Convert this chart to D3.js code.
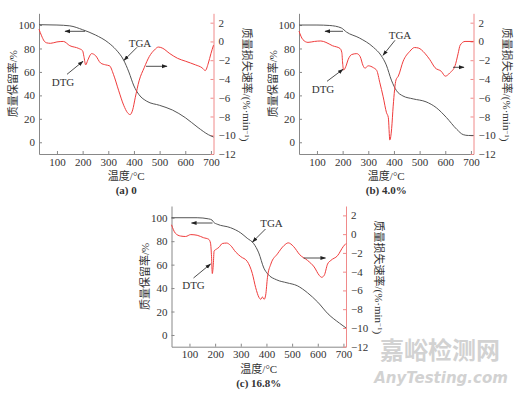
<!DOCTYPE html>
<html lang="zh">
<head>
<meta charset="utf-8">
<title>TGA / DTG</title>
<script src="https://cdn.jsdelivr.net/npm/d3@7"></script>
<style>
  body { margin: 0; background: #fff; }
  svg { display: block; }
  text { font-family: "Liberation Serif", "DejaVu Serif", "Noto Sans CJK SC", serif; fill: #333; }
</style>
</head>
<body>
<script>
// ---- data (temperature °C, value) ----
var tgaA = [[30,100.3],[100,100],[150,99.3],[200,96],[250,91.5],[300,85],[330,79],[360,70],[380,60],[400,48],
  [420,40.5],[450,35],[500,31.5],[550,27.5],[600,21],[650,12.5],[690,6.5],[710,4.5]];
var dtgA = [[30,1.3],[40,0.6],[50,0.05],[60,-0.15],[75,-0.2],[100,-0.05],[125,0],[150,-0.45],[185,-0.75],[200,-1.0],
  [205,-1.6],[212,-2.5],[220,-2.0],[235,-1.3],[250,-1.5],[270,-2.3],[290,-2.5],[305,-2.6],[320,-3.5],[340,-5.2],
  [360,-6.8],[375,-7.6],[385,-7.8],[395,-7.3],[405,-6.0],[420,-4.2],[440,-2.8],[460,-1.6],[480,-0.9],[495,-0.6],
  [510,-0.7],[540,-1.3],[570,-1.8],[600,-2.1],[640,-2.5],[665,-2.8],[678,-3.1],[690,-2.3],[700,-1.3],[710,-0.4]];

var tgaB = [[30,100],[100,100],[150,99.6],[195,97.5],[215,94],[265,89],[320,81],[350,74],[370,66],[390,53],
  [410,44],[435,39.5],[475,37],[525,34.5],[565,29.5],[605,21],[645,11],[670,6.5],[690,5.8],[710,5.8]];
var dtgB = [[30,1.1],[45,0.2],[65,-0.1],[90,0],[115,0.05],[135,-0.1],[160,-0.45],[190,-0.75],[197,-1.2],[200,-2.3],
  [204,-3.05],[212,-2.7],[222,-1.9],[235,-1.4],[255,-1.3],[268,-1.6],[280,-2.6],[287,-2.85],[300,-2.6],[320,-2.8],
  [333,-3.1],[345,-4.4],[358,-5.9],[371,-7.6],[378,-8.1],[384,-10.5],[391,-9.3],[397,-6.9],[408,-4.1],[417,-3.7],
  [436,-2.1],[462,-1.05],[480,-0.65],[495,-0.7],[520,-1.25],[540,-1.95],[560,-2.8],[585,-3.2],[600,-3.7],
  [618,-3.35],[638,-2.6],[650,-1.3],[658,-0.4],[677,0],[710,0]];

var tgaC = [[30,100],[130,100],[175,99],[188,98],[195,96],[208,94.5],[260,91.5],[300,87],[325,82.5],[350,78],
  [370,70],[390,57],[405,52],[440,47],[480,44.5],[520,42],[560,36],[600,28],[640,18],[685,10],[710,6]];
var dtgC = [[30,1.0],[45,0.1],[65,-0.2],[85,-0.25],[105,-0.05],[130,-0.12],[155,-0.38],[175,-0.55],[182,-0.95],
  [186,-2.4],[189,-4.2],[193,-3.2],[196,-1.8],[205,-1.6],[215,-1.4],[228,-1.0],[245,-0.95],[260,-1.2],[280,-1.9],
  [300,-2.4],[325,-2.9],[345,-4.2],[358,-5.7],[371,-6.75],[378,-6.95],[384,-6.7],[391,-6.95],[397,-6.5],[404,-4.6],
  [417,-3.2],[443,-2.1],[469,-1.2],[485,-0.93],[505,-1.3],[530,-2.2],[560,-2.8],[586,-3.5],[606,-4.4],[615,-4.6],
  [625,-4.4],[638,-3.2],[651,-2.8],[677,-2.3],[700,-1.3],[710,-1.0]];

var xTicks = [100,200,300,400,500,600,700];
var leftTicks = [0,20,40,60,80,100];
var rightTicks = [-12,-10,-8,-6,-4,-2,0,2];
var captions = ["(a) 0", "(b) 4.0%", "(c) 16.8%"];

// ---- layout ----
var w = 522, h = 396;
var pw = 174.5, ph = 140.7;

var svg = d3.select("body").append("svg").attr("width", w).attr("height", h);

var defs = svg.append("defs");
defs.append("marker").attr("id", "ah")
  .attr("viewBox", "0 0 10 10").attr("refX", 9).attr("refY", 5)
  .attr("markerWidth", 7).attr("markerHeight", 7).attr("orient", "auto")
  .append("path").attr("d", "M0,1.5 L10,5 L0,8.5 Z").attr("fill", "#222");

var xScale = d3.scaleLinear().domain([30, 710]).range([0, pw]);
var yLeft = d3.scaleLinear().domain([-10, 110]).range([ph, 0]);
var yRight = d3.scaleLinear().domain([-12, 3]).range([ph, 0]);

var tgaLine = d3.line().x(function(d){ return xScale(d[0]); }).y(function(d){ return yLeft(d[1]); })
  .curve(d3.curveMonotoneX);
var dtgLine = d3.line().x(function(d){ return xScale(d[0]); }).y(function(d){ return yRight(d[1]); })
  .curve(d3.curveMonotoneX);

// annotation spots are local pixel offsets inside each panel
var panels = [
  { x: 39, y: 13.3, tga: tgaA, dtg: dtgA, cap: captions[0],
    tgaText: [101, 30], tgaArrow: [[98,34],[85,47]],
    leftArrow: [[46,18],[26,18]], rightArrow: [[107,53],[128,53]],
    dtgText: [24, 69], dtgArrow: [[28,61],[44,48]] },
  { x: 299, y: 13.3, tga: tgaB, dtg: dtgB, cap: captions[1],
    tgaText: [101, 22], tgaArrow: [[96,27],[84,42]],
    leftArrow: [[44,18],[26,18]], rightArrow: [[154,54],[165,54]],
    dtgText: [24, 76], dtgArrow: [[28,68],[44,56]] },
  { x: 171.5, y: 206, tga: tgaC, dtg: dtgC, cap: captions[2],
    tgaText: [100, 17], tgaArrow: [[94,23],[81,36]],
    leftArrow: [[41,17],[20,17]], rightArrow: [[132,52],[154,52]],
    dtgText: [22, 79], dtgArrow: [[22,72],[39,58]] }
];

panels.forEach(function(p) {
  var g = svg.append("g").attr("transform", "translate(" + p.x + "," + p.y + ")");

  // bottom axis
  var xa = g.append("g").attr("transform", "translate(0," + ph + ")")
    .call(d3.axisBottom(xScale).tickValues(xTicks).tickSizeInner(-3).tickSizeOuter(0).tickPadding(4));
  // left axis
  var la = g.append("g")
    .call(d3.axisLeft(yLeft).tickValues(leftTicks).tickSizeInner(-3).tickSizeOuter(0).tickPadding(4));
  // right axis (red)
  var ra = g.append("g").attr("transform", "translate(" + pw + ",0)")
    .call(d3.axisRight(yRight).tickValues(rightTicks).tickSizeInner(-3).tickSizeOuter(0).tickPadding(5));

  [xa, la].forEach(function(a) {
    a.select(".domain").attr("stroke", "#888");
    a.selectAll(".tick line").attr("stroke", "#888");
  });
  ra.select(".domain").attr("stroke", "#f08a8a");
  ra.selectAll(".tick line").attr("stroke", "#f08a8a");
  g.selectAll(".tick text").attr("font-size", "11px")
    .attr("font-family", "'Liberation Serif', 'DejaVu Serif', serif").attr("fill", "#333");

  // curves
  g.append("path").datum(p.tga).attr("d", tgaLine)
    .attr("fill", "none").attr("stroke", "#555").attr("stroke-width", 1);
  g.append("path").datum(p.dtg).attr("d", dtgLine)
    .attr("fill", "none").attr("stroke", "#f03c3c").attr("stroke-width", 1);

  // arrows + labels
  [p.tgaArrow, p.leftArrow, p.rightArrow, p.dtgArrow].forEach(function(a) {
    g.append("line").attr("x1", a[0][0]).attr("y1", a[0][1]).attr("x2", a[1][0]).attr("y2", a[1][1])
      .attr("stroke", "#222").attr("stroke-width", 0.8).attr("marker-end", "url(#ah)");
  });
  g.append("text").attr("x", p.tgaText[0]).attr("y", p.tgaText[1]).attr("dy", "0.35em")
    .attr("text-anchor", "middle").attr("font-size", "11px").text("TGA");
  g.append("text").attr("x", p.dtgText[0]).attr("y", p.dtgText[1]).attr("dy", "0.35em")
    .attr("text-anchor", "middle").attr("font-size", "11px").text("DTG");

  // axis titles
  g.append("text").attr("transform", "translate(-26," + (ph / 2) + ") rotate(-90)")
    .attr("text-anchor", "middle").attr("dy", "0.35em").attr("font-size", "11px").text("质量保留率/%");
  var rt = g.append("text").attr("transform", "translate(" + (pw + 33) + "," + (ph / 2 + 1) + ") rotate(90)")
    .attr("text-anchor", "middle").attr("dy", "0.35em").attr("font-size", "11px");
  rt.append("tspan").text("质量损失速率/(%·min");
  rt.append("tspan").attr("dy", "-0.4em").attr("font-size", "7px").text("−1");
  rt.append("tspan").attr("dy", "0.4em").text(")");

  g.append("text").attr("x", pw / 2).attr("y", ph + 22).attr("dy", "0.35em")
    .attr("text-anchor", "middle").attr("font-size", "11px").text("温度/°C");
  g.append("text").attr("x", pw / 2).attr("y", ph + 36).attr("dy", "0.35em")
    .attr("text-anchor", "middle").attr("font-size", "11px").attr("font-weight", "bold")
    .attr("fill", "#111").text(p.cap);
});

// watermark
svg.append("text").attr("x", 440).attr("y", 359).attr("text-anchor", "middle")
  .attr("font-size", "24px").style("font-family", "'Noto Sans CJK SC', sans-serif").style("fill", "#d2d2d2")
  .attr("font-weight", "bold").text("嘉峪检测网");
svg.append("text").attr("x", 441).attr("y", 383).attr("text-anchor", "middle")
  .attr("font-size", "15px").style("font-family", "'DejaVu Sans', sans-serif").style("fill", "#d2d2d2")
  .attr("font-style", "italic").attr("font-weight", "bold").text("AnyTesting.com");
</script>
</body>
</html>
